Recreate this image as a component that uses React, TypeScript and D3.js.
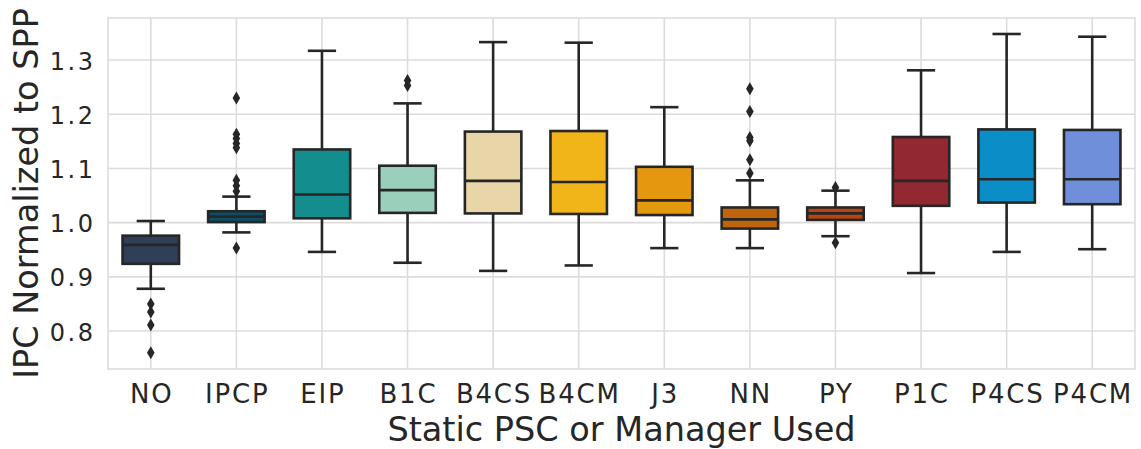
import React from 'react';
import * as d3 from 'd3';

const categories = ['NO', 'IPCP', 'EIP', 'B1C', 'B4CS', 'B4CM', 'J3', 'NN', 'PY', 'P1C', 'P4CS', 'P4CM'];
const whiskerLow = [0.878, 0.982, 0.946, 0.926, 0.911, 0.921, 0.953, 0.953, 0.975, 0.907, 0.946, 0.951];
const q1 = [0.924, 1.001, 1.008, 1.018, 1.017, 1.016, 1.014, 0.989, 1.005, 1.031, 1.037, 1.034];
const medians = [0.959, 1.011, 1.052, 1.060, 1.077, 1.075, 1.041, 1.006, 1.017, 1.077, 1.080, 1.080];
const q3 = [0.976, 1.021, 1.135, 1.105, 1.168, 1.169, 1.103, 1.028, 1.028, 1.158, 1.172, 1.171];
const whiskerHigh = [1.003, 1.048, 1.317, 1.220, 1.333, 1.332, 1.213, 1.078, 1.059, 1.281, 1.348, 1.343];
const outliers = [
  [0.850, 0.835, 0.811, 0.760],
  [1.230, 1.163, 1.155, 1.146, 1.138, 1.078, 1.068, 1.058, 0.953],
  [],
  [1.262, 1.253],
  [],
  [],
  [],
  [1.247, 1.205, 1.157, 1.151, 1.116, 1.091],
  [1.065, 0.963],
  [],
  [],
  [],
];
const colors = ['#2e3f57', '#0c4f66', '#138d8e', '#9ad0bb', '#e8d5a8', '#f2b519', '#e3980f', '#c0650b', '#b8450d', '#922830', '#0b8dc8', '#6f8fdb'];
const yTicks = [0.8, 0.9, 1.0, 1.1, 1.2, 1.3];

const W = 1141, H = 449;
const margin = { left: 108, right: 1135, top: 18, bottom: 369 };
const FONT = 'DejaVu Sans, sans-serif';
const INK = '#262626';
const GRID = '#dcdcdc';

export default function App() {
  const x = d3.scaleBand<string>().domain(categories).range([margin.left, margin.right]).paddingInner(0).paddingOuter(0);
  const y = d3.scaleLinear().domain([0.730, 1.3775]).range([margin.bottom, margin.top]);
  const bw = x.bandwidth() * 0.66;
  const capW = bw / 2;
  const diamond = (cx: number, cy: number) =>
    `M${cx},${cy - 6.5} L${cx + 3.8},${cy} L${cx},${cy + 6.5} L${cx - 3.8},${cy} Z`;

  return (
    <svg width={W} height={H} style={{ position: 'absolute', left: 0, top: 0, background: '#fff' }}>
      {/* grid */}
      {yTicks.map(t => (
        <line key={'gy' + t} x1={margin.left} x2={margin.right} y1={y(t)} y2={y(t)} stroke={GRID} strokeWidth={1.6} />
      ))}
      {categories.map(c => {
        const cx = x(c)! + x.bandwidth() / 2;
        return <line key={'gx' + c} x1={cx} x2={cx} y1={margin.top} y2={margin.bottom} stroke={GRID} strokeWidth={1.6} />;
      })}
      <rect x={margin.left} y={margin.top} width={margin.right - margin.left} height={margin.bottom - margin.top}
        fill="none" stroke={GRID} strokeWidth={1.6} />

      {/* boxes */}
      {categories.map((c, i) => {
        const cx = x(c)! + x.bandwidth() / 2;
        return (
          <g key={c} stroke={INK} strokeWidth={2.6}>
            <line x1={cx} x2={cx} y1={y(whiskerHigh[i])} y2={y(q3[i])} />
            <line x1={cx} x2={cx} y1={y(q1[i])} y2={y(whiskerLow[i])} />
            <line x1={cx - capW / 2} x2={cx + capW / 2} y1={y(whiskerHigh[i])} y2={y(whiskerHigh[i])} />
            <line x1={cx - capW / 2} x2={cx + capW / 2} y1={y(whiskerLow[i])} y2={y(whiskerLow[i])} />
            <rect x={cx - bw / 2} y={y(q3[i])} width={bw} height={y(q1[i]) - y(q3[i])} fill={colors[i]} />
            <line x1={cx - bw / 2} x2={cx + bw / 2} y1={y(medians[i])} y2={y(medians[i])} />
            {outliers[i].map((v, k) => (
              <path key={k} d={diamond(cx, y(v))} fill={INK} stroke="none" />
            ))}
          </g>
        );
      })}

      {/* y tick labels */}
      {yTicks.map(t => (
        <text key={'ty' + t} x={93 + 2.5} y={y(t) + 9.5} textAnchor="end" fontFamily={FONT} fontSize={24}
          letterSpacing={2.5} fill={INK}>
          {d3.format('.1f')(t)}
        </text>
      ))}
      {/* x tick labels */}
      {categories.map(c => (
        <text key={'tx' + c} x={x(c)! + x.bandwidth() / 2 + 0.9} y={403} textAnchor="middle" fontFamily={FONT}
          fontSize={26} letterSpacing={1.8} fill={INK}>
          {c}
        </text>
      ))}

      <text x={(margin.left + margin.right) / 2} y={441} textAnchor="middle" fontFamily={FONT} fontSize={33.5} fill={INK}>
        Static PSC or Manager Used
      </text>
      <text transform={`translate(37.5,${(margin.top + margin.bottom) / 2}) rotate(-90)`} textAnchor="middle"
        fontFamily={FONT} fontSize={33.5} fill={INK}>
        IPC Normalized to SPP
      </text>
    </svg>
  );
}
